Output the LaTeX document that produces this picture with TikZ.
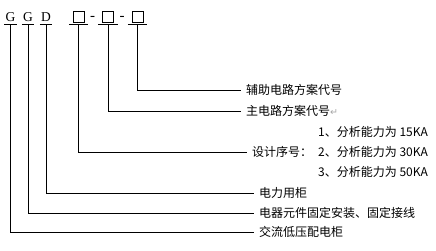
\documentclass[tikz,border=0pt]{standalone}
\usepackage{fontspec}
\setmainfont{Liberation Serif}
\newfontfamily\cjk{Noto Sans CJK SC}
\newfontfamily\symfont{DejaVu Sans}
\usetikzlibrary{positioning}
\tikzset{
  letter/.style={anchor=south, inner xsep=0pt, inner ysep=2.5pt, minimum width=12pt, text depth=0pt, font=\fontsize{13.5}{14}\selectfont},
  slot/.style={anchor=south, inner sep=0pt, minimum width=19pt, minimum height=13.5pt,
    path picture={\draw[line width=0.8pt] ([xshift=-5.5pt,yshift=1.5pt]path picture bounding box.south) rectangle ++(11pt,11pt);}},
  dashmark/.style={inner sep=0pt, font=\fontsize{15}{16}\selectfont},
  lbl/.style={anchor=west, inner xsep=5pt, inner ysep=0pt, text height=10pt, text depth=2pt, font=\cjk\fontsize{12}{14}\selectfont},
  lead/.style={line width=0.9pt}
}

\begin{document}
\begin{tikzpicture}[x=1pt,y=-1pt]
\useasboundingbox (0,0) rectangle (436,250);
% model code
\node[letter] (g1) at (10.5,24.5) {G};
\node[letter] (g2) at (28,24.5) {G};
\node[letter] (d) at (46,24.5) {D};
\node[slot] (s1) at (78.5,24.5) {};
\node[dashmark] (h1) at (92.5,18) {-};
\node[slot] (s2) at (108,24.5) {};
\node[dashmark] (h2) at (122,18) {-};
\node[slot] (s3) at (137.5,24.5) {};
\foreach \n in {g1,g2,d,s1,s2,s3}
  \draw[lead] (\n.south west) -- (\n.south east);

% meanings
\node[lbl] (aux) at (241,90) {辅助电路方案代号};
\node[lbl] (main) at (241,111) {主电路方案代号{\symfont\color{black!35}\fontsize{9.5}{10}\selectfont ↵}};
\node[lbl] (design) at (247,152) {设计序号：};
\node[lbl] (cap1) at (313,132) {1、分析能力为 15KA};
\node[lbl] (cap2) at (313,152) {2、分析能力为 30KA};
\node[lbl] (cap3) at (313,172) {3、分析能力为 50KA};
\node[lbl] (cab) at (254,193) {电力用柜};
\node[lbl] (fix) at (254,213) {电器元件固定安装、固定接线};
\node[lbl] (lv) at (254,232) {交流低压配电柜};

\draw[lead] (s3.south) |- (aux.west);
\draw[lead] (s2.south) |- (main.west);
\draw[lead] (s1.south) |- (design.west);
\draw[lead] (d.south) |- (cab.west);
\draw[lead] (g2.south) |- (fix.west);
\draw[lead] (g1.south) |- (lv.west);
\end{tikzpicture}
\end{document}
